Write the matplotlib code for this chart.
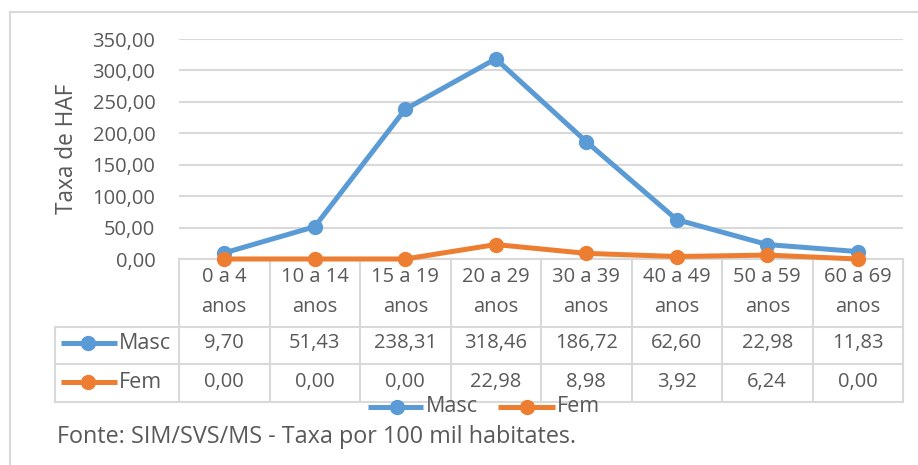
import matplotlib
matplotlib.use("Agg")
import matplotlib.pyplot as plt
from matplotlib.lines import Line2D
from matplotlib.ticker import FuncFormatter
from matplotlib.transforms import blended_transform_factory

#################################
## 데이터
#################################
faixas_l1 = ['0 a 4', '10 a 14', '15 a 19', '20 a 29', '30 a 39', '40 a 49', '50 a 59', '60 a 69']
faixas_l2 = ['anos'] * 8
masc = [9.70, 51.43, 238.31, 318.46, 186.72, 62.60, 22.98, 11.83]
fem = [0.00, 0.00, 0.00, 22.98, 8.98, 3.92, 6.24, 0.00]
series_nomes = ['Masc', 'Fem']
yticks = [0, 50, 100, 150, 200, 250, 300, 350]

AZUL = '#5B9BD5'
LARANJA = '#ED7D31'
TXT = '#595959'
GRADE = '#D9D9D9'
FS = 14.5
FS_NOME = 15.5
FS_FONTE = 16.8
FS_YLAB = 16.3

plt.rcParams['font.family'] = ['Open Sans', 'DejaVu Sans']

W, H = 918, 465
fig = plt.figure(figsize=(W / 100, H / 100), dpi=100)

# borda externa
fig.add_artist(Line2D([10 / W, 10 / W], [0, 1 - 12 / H], color=GRADE, lw=1.5))
fig.add_artist(Line2D([10 / W, 1], [1 - 12 / H, 1 - 12 / H], color=GRADE, lw=1.5))

ax_l, ax_r, ax_t, ax_b = 179, 903, 39, 259
ax = fig.add_axes([ax_l / W, 1 - ax_b / H, (ax_r - ax_l) / W, (ax_b - ax_t) / H])
axh = ax_b - ax_t
axw = ax_r - ax_l

def ay(py):
    return (ax_b - py) / axh

def axx(px):
    return (px - ax_l) / axw

x = list(range(len(masc)))
ax.plot(x, masc, color=AZUL, lw=3.6, marker='o', ms=10, clip_on=False, zorder=3)
ax.plot(x, fem, color=LARANJA, lw=3.6, marker='o', ms=10, clip_on=False, zorder=4)

ax.set_xlim(-0.5, len(masc) - 0.5)
ax.set_ylim(0, 350)
ax.set_yticks(yticks)
ax.yaxis.set_major_formatter(FuncFormatter(lambda v, p: f'{v:.2f}'.replace('.', ',')))
ax.tick_params(axis='y', length=0, pad=17, labelsize=FS, labelcolor=TXT)
ax.set_xticks([])
for s in ax.spines.values():
    s.set_visible(False)
ax.grid(axis='y', color=GRADE, lw=1.5)
ax.set_axisbelow(True)

#################################
## tabela de dados
#################################
trans = blended_transform_factory(ax.transData, ax.transAxes)
y_cab = ay(326.7)
y_masc = ay(364)
y_fem = ay(401.7)
x_esq = axx(55)
lk = dict(color=GRADE, lw=1.5, clip_on=False, zorder=1)

for i in range(len(masc) + 1):
    ax.plot([i - 0.5, i - 0.5], [0, y_fem], transform=trans, **lk)
ax.plot([0, 1], [0, 0], transform=ax.transAxes, **lk)
for yy in (y_cab, y_masc, y_fem):
    ax.plot([x_esq, 1], [yy, yy], transform=ax.transAxes, **lk)
ax.plot([x_esq, x_esq], [y_cab, y_fem], transform=ax.transAxes, **lk)

for i in x:
    ax.text(i, ay(276.7), faixas_l1[i], transform=trans, ha='center', va='center', fontsize=FS, color=TXT)
    ax.text(i, ay(306.7), faixas_l2[i], transform=trans, ha='center', va='center', fontsize=FS, color=TXT)
    ax.text(i, ay(343.3), f'{masc[i]:.2f}'.replace('.', ','), transform=trans,
            ha='center', va='center', fontsize=FS, color=TXT)
    ax.text(i, ay(382.3), f'{fem[i]:.2f}'.replace('.', ','), transform=trans,
            ha='center', va='center', fontsize=FS, color=TXT)

for nome, cor, py in [(series_nomes[0], AZUL, 343.3), (series_nomes[1], LARANJA, 382.3)]:
    ax.plot([axx(61), axx(117)], [ay(py), ay(py)], transform=ax.transAxes, color=cor, lw=3.6,
            clip_on=False, solid_capstyle='butt')
    ax.plot([axx(88)], [ay(py)], transform=ax.transAxes, color=cor, marker='o', ms=10, clip_on=False)
    ax.text(axx(119), ay(py), nome, transform=ax.transAxes, ha='left', va='center',
            fontsize=FS_NOME, color=TXT)

#################################
## legenda inferior
#################################
ly = 1 - 406.7 / H
for nome, cor, x0, x1, xm, xt in [(series_nomes[0], AZUL, 368, 423, 397, 426),
                                 (series_nomes[1], LARANJA, 498, 555, 527, 557)]:
    fig.add_artist(Line2D([x0 / W, x1 / W], [ly, ly], color=cor, lw=3.6, solid_capstyle='butt'))
    fig.add_artist(Line2D([xm / W], [ly], color=cor, marker='o', ms=10))
    fig.text(xt / W, ly, nome, ha='left', va='center', fontsize=FS_NOME, color=TXT)

fig.text(67 / W, 1 - 148.5 / H, 'Taxa de HAF', rotation=90, ha='center', va='center',
         fontsize=FS_YLAB, color=TXT)
fig.text(57 / W, 1 - 436.7 / H, 'Fonte: SIM/SVS/MS - Taxa por 100 mil habitates.',
         ha='left', va='center', fontsize=FS_FONTE, color=TXT)

plt.savefig('out.png', dpi=100)
